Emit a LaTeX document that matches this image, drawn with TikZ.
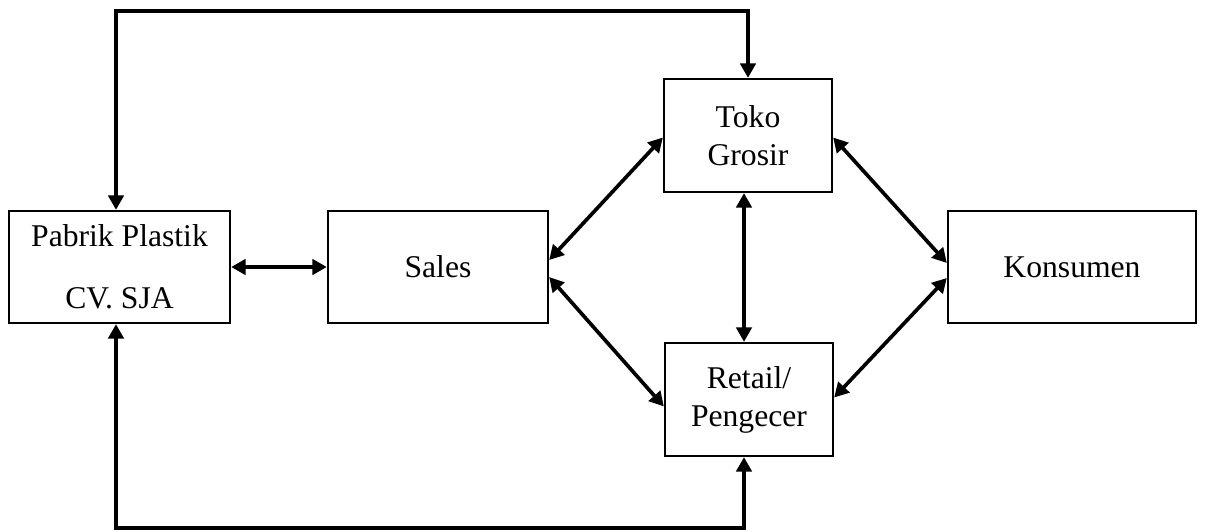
\documentclass[tikz,border=0pt]{standalone}
\usepackage{fontspec}
\setmainfont{Liberation Serif}
\usetikzlibrary{arrows.meta,calc,positioning}

\begin{document}
\begin{tikzpicture}[x=0.025cm,y=-0.025cm,>={Triangle[length=3.6mm,width=3.8mm]},
  every node/.style={font=\fontsize{22.5}{27}\selectfont},
  box/.style={draw,line width=1.6pt,inner sep=0pt,align=center},
  link/.style={<->,line width=2.6pt}]
  \useasboundingbox (0,0) rectangle (1205,532);
  % boxes
  \node[box,minimum width=5.525cm,minimum height=2.8cm] (pabrik) at (119.5,267) {Pabrik Plastik\\[17pt]CV. SJA};
  \node[box,minimum width=5.5cm,minimum height=2.8cm] (sales) at (438,267) {Sales};
  \node[box,minimum width=4.2cm,minimum height=2.825cm] (toko) at (748,135.5) {Toko\\Grosir};
  \node[box,minimum width=4.2cm,minimum height=2.825cm] (retail) at (749,399.5) {Retail/\\Pengecer};
  \node[box,minimum width=6.2cm,minimum height=2.8cm] (konsumen) at (1072,267) {Konsumen};
  \coordinate (top) at (0,11);
  \coordinate (bot) at (0,528);
  \coordinate (pabN) at ($(pabrik.north)+(-3.5,0)$);
  \coordinate (pabS) at ($(pabrik.south)+(-3.5,0)$);
  \coordinate (retS) at ($(retail.south)+(-5,0)$);
  % connectors
  \draw[link] (pabrik.east) -- (sales.west);
  \draw[link] ($(sales.east)+(0,-7)$) -- ($(toko.west)+(0,2)$);
  \draw[link] ($(sales.east)+(0,10)$) -- ($(retail.west)+(0,7)$);
  \draw[link] ($(toko.south)+(-4,0)$) -- ($(retail.north)+(-5,0)$);
  \draw[link] ($(toko.east)+(0,2)$) -- ($(konsumen.west)+(0,-4)$);
  \draw[link] ($(retail.east)+(0,-2)$) -- ($(konsumen.west)+(0,11)$);
  % feedback loops
  \draw[link] (pabN) -- (pabN |- top) -- (toko.north |- top) -- (toko.north);
  \draw[link] (pabS) -- (pabS |- bot) -- (retS |- bot) -- (retS);
\end{tikzpicture}
\end{document}
